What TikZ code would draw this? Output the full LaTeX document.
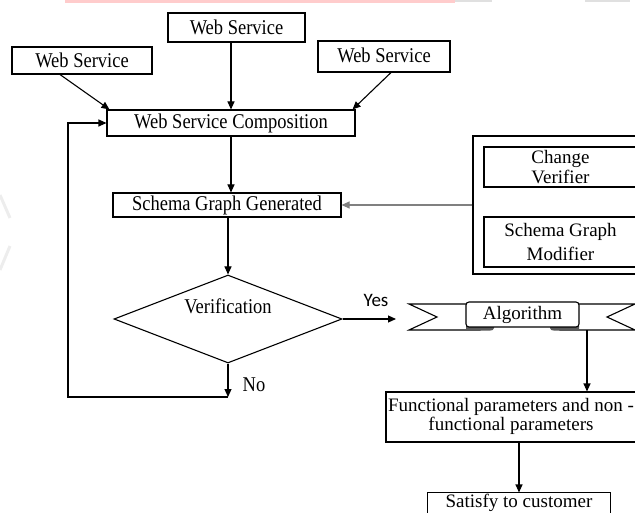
\documentclass[tikz,border=0pt]{standalone}
\usepackage{fontspec}
\setmainfont{Liberation Serif}[FakeStretch=0.88]
\newfontfamily\widefont{Liberation Serif}
\newfontfamily\yesfont{Carlito}
\usetikzlibrary{arrows.meta,shapes.geometric}

\tikzset{
  box/.style={draw, line width=1.1pt, inner sep=0pt, align=center,
              font=\fontsize{21}{22}\selectfont},
  widebox/.style={box, font=\widefont\fontsize{19}{20}\selectfont},
  arr/.style={-{Triangle[length=8pt,width=7pt]}, line width=1.1pt},
  lbl/.style={inner sep=0pt, font=\fontsize{21}{22}\selectfont},
  tail/.style={draw, fill=white, line width=1.1pt, line join=miter},
  fold/.style={fill=black!65},
}

\begin{document}
\begin{tikzpicture}[x=1pt,y=-1pt]
\useasboundingbox (0,0) rectangle (635,513);

% faint page decoration at the top and left edge
\fill[red!20!white] (65,0) rectangle (455,2.6);
\fill[black!12] (455,0) rectangle (492,2);
\fill[black!12] (585,0) rectangle (630,2);
\draw[black!7, line width=3pt] (0,195) -- (10,218);
\draw[black!7, line width=3pt] (0,270) -- (10,246);

% service boxes
\node[box, minimum width=140pt, minimum height=27pt] (ws1) at (82,60.5) {Web Service};
\node[box, minimum width=137pt, minimum height=29pt] (ws2) at (236.5,27.5) {Web Service};
\node[box, minimum width=132pt, minimum height=31pt] (ws3) at (384,56.5) {\raisebox{3pt}{Web Service}};

% main flow
\node[box, minimum width=248pt, minimum height=26pt] (wsc) at (231,123) {Web Service Composition};
\node[box, minimum width=228pt, minimum height=24pt] (sgg) at (227,205) {Schema Graph Generated};
\node[box, diamond, aspect=2.6, minimum width=228pt, minimum height=88pt] (ver) at (228,319)
  {\raisebox{5pt}[0pt][0pt]{Verification}};

% verifier / modifier group
\node[box, minimum width=167pt, minimum height=138pt] (rb) at (556.5,205) {};
\node[widebox, minimum width=153pt, minimum height=40pt, font=\widefont\fontsize{19}{20}\selectfont] (cv) at (560.5,167) {Change\\Verifier};
\node[widebox, minimum width=153pt, minimum height=50pt, font=\widefont\fontsize{19}{24}\selectfont] (sgm) at (560.5,242) {Schema Graph\\Modifier};

% banner with the algorithm
\draw[tail] (409,304) -- (480,304) -- (480,330) -- (409,330) -- (437,317) -- cycle;
\draw[tail] (560,304) -- (635,304) -- (607,317) -- (635,330) -- (560,330) -- cycle;
\fill[fold] (466,326) -- (494,326) -- (494,328) to[out=-90,in=0] (490,330.6) -- (466,330.6) -- cycle;
\fill[fold] (579,326) -- (550,326) -- (550,328) to[out=-90,in=180] (554,330.6) -- (579,330.6) -- cycle;
\node[widebox, fill=white, rounded corners=3pt, minimum width=113pt, minimum height=25pt] (alg) at (522.5,314.5) {Algorithm};
\coordinate (banbot) at (587,330);

% result boxes
\node[widebox, minimum width=250pt, minimum height=50pt, font=\widefont\fontsize{19}{18}\selectfont] (func) at (511,417)
  {\raisebox{-3pt}{\begin{tabular}{@{}c@{}}Functional parameters and non -\\functional parameters\end{tabular}}};
% the last box runs on past the lower edge: only its top and sides are drawn
\node[widebox, draw=none, minimum width=182pt, minimum height=20pt] (sat) at (519,503) {Satisfy to customer};
\draw[line width=1.1pt] ([yshift=-4pt]sat.south west) -- (sat.north west) -- (sat.north east) -- ([yshift=-4pt]sat.south east);

% labels
\node[inner sep=0pt, font=\yesfont\fontsize{19}{20}\selectfont] (yes) at (376,300) {Yes};
\node[lbl] (no) at (254,385) {No};

% connectors
\draw[arr] ([xshift=-22pt]ws1.south) -- ([xshift=3pt]wsc.north west);
\draw[arr] (ws2.south -| wsc.north) -- (wsc.north);
\draw[arr] ([xshift=7pt]ws3.south) -- ([xshift=-3pt]wsc.north east);
\draw[arr] (wsc.south) -- (wsc.south |- sgg.north);
\draw[arr] (ver.north |- sgg.south) -- (ver.north);
\draw[arr, draw=black!50] (rb.west) -- (sgg.east);

\coordinate (yesend) at (396,319);
\draw[arr] (ver.east) -- (yesend);

\coordinate (noend) at (228,397);
\coordinate (loopc) at (68,397);
\draw[arr] (ver.south) -- (noend);
\draw[arr] (noend) -- (loopc) |- (wsc.west);

\draw[arr] (banbot) -- (banbot |- func.north);
\draw[arr] (sat.north |- func.south) -- (sat.north);
\end{tikzpicture}
\end{document}
